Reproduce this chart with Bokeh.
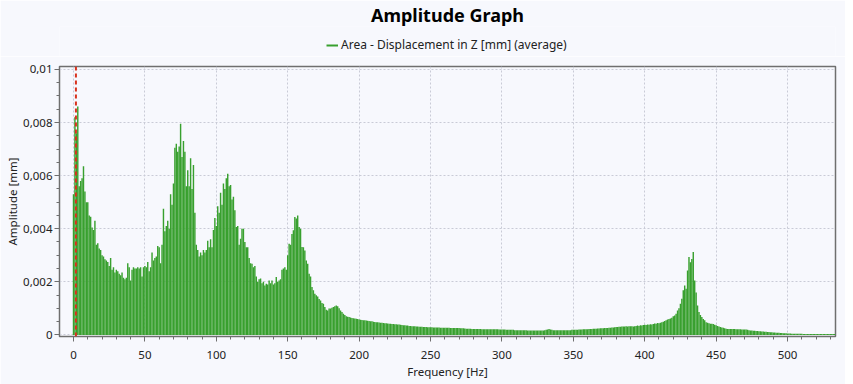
from bokeh.plotting import figure
from bokeh.layouts import column
from bokeh.models import (Range1d, SingleIntervalTicker, CustomJSTickFormatter,
                          Span, Legend, LegendItem, ColumnDataSource)
from bokeh.embed import file_html
from bokeh.resources import INLINE

# Frequency resolution of the spectrum [Hz]
freq_step = 1.0
# Amplitude values, in units of 1e-3 mm (0 Hz .. 534 Hz)
amp_e3 = [
    5.3, 8.2, 7.6, 8.6, 5.6, 5.8, 5.9, 6.35, 5.4, 5.0,
    5.0, 4.5, 4.45, 4.05, 3.95, 4.3, 3.4, 3.45, 3.25, 3.2,
    3.0, 2.95, 2.85, 2.8, 2.75, 2.6, 2.9, 2.45, 2.55, 2.35,
    2.45, 2.4, 2.3, 2.25, 2.35, 2.15, 2.1, 2.15, 2.7, 2.55,
    2.05, 2.45, 2.55, 2.5, 2.5, 2.55, 2.5, 2.55, 2.2, 2.55,
    2.6, 2.55, 2.75, 2.4, 2.55, 3.1, 2.8, 2.9, 2.95, 3.35,
    3.3, 2.7, 3.4, 4.75, 3.9, 4.1, 4.3, 4.0, 5.3, 4.9,
    5.7, 7.05, 7.2, 6.9, 7.1, 7.95, 6.7, 7.3, 6.9, 5.6,
    6.2, 5.6, 6.65, 5.5, 6.4, 4.6, 3.4, 3.2, 2.95, 3.1,
    3.0, 3.2, 3.1, 3.2, 3.55, 3.3, 3.6, 3.3, 3.95, 4.4,
    4.1, 4.85, 4.6, 5.35, 4.9, 5.7, 5.5, 5.9, 6.07, 5.6,
    5.65, 5.1, 5.2, 4.7, 4.06, 4.1, 3.4, 3.62, 4.0, 4.0,
    3.5, 3.3, 3.3, 2.9, 2.7, 2.68, 2.55, 2.6, 2.2, 2.0,
    2.1, 2.12, 1.95, 2.0, 1.86, 1.93, 1.9, 2.05, 1.95, 2.05,
    1.9, 1.95, 2.18, 2.0, 2.05, 2.1, 2.45, 2.5, 2.55, 2.45,
    3.0, 3.43, 3.4, 3.8, 3.94, 4.44, 4.38, 4.5, 4.06, 4.0,
    3.31, 3.3, 3.18, 2.8, 2.68, 2.3, 2.2, 1.8, 1.68, 1.55,
    1.49, 1.45, 1.35, 1.3, 1.2, 1.17, 1.05, 0.95, 0.92, 0.99,
    0.99, 1.02, 1.05, 1.08, 1.11, 1.08, 1.0, 0.92, 0.86, 0.8,
    0.75, 0.7, 0.68, 0.67, 0.66, 0.64, 0.63, 0.62, 0.61, 0.6,
    0.58, 0.57, 0.56, 0.55, 0.55, 0.54, 0.53, 0.52, 0.51, 0.51,
    0.50, 0.49, 0.48, 0.48, 0.47, 0.46, 0.46, 0.45, 0.44, 0.44,
    0.43, 0.42, 0.42, 0.41, 0.41, 0.40, 0.40, 0.39, 0.39, 0.38,
    0.37, 0.36, 0.36, 0.35, 0.35, 0.34, 0.34, 0.33, 0.33, 0.33,
    0.32, 0.32, 0.31, 0.31, 0.31, 0.30, 0.30, 0.30, 0.29, 0.29,
    0.29, 0.29, 0.28, 0.28, 0.28, 0.28, 0.28, 0.27, 0.27, 0.27,
    0.27, 0.27, 0.27, 0.27, 0.26, 0.26, 0.26, 0.26, 0.26, 0.26,
    0.26, 0.25, 0.25, 0.25, 0.24, 0.23, 0.23, 0.23, 0.23, 0.22,
    0.22, 0.22, 0.22, 0.22, 0.22, 0.22, 0.21, 0.21, 0.21, 0.21,
    0.21, 0.21, 0.21, 0.21, 0.21, 0.21, 0.21, 0.21, 0.20, 0.20,
    0.20, 0.20, 0.20, 0.19, 0.19, 0.19, 0.19, 0.19, 0.19, 0.18,
    0.18, 0.18, 0.18, 0.18, 0.18, 0.18, 0.18, 0.18, 0.17, 0.17,
    0.17, 0.17, 0.17, 0.17, 0.17, 0.17, 0.17, 0.17, 0.17, 0.17,
    0.18, 0.19, 0.20, 0.22, 0.20, 0.19, 0.18, 0.18, 0.18, 0.18,
    0.18, 0.18, 0.18, 0.18, 0.18, 0.18, 0.18, 0.18, 0.18, 0.19,
    0.19, 0.19, 0.19, 0.19, 0.20, 0.20, 0.20, 0.21, 0.21, 0.21,
    0.21, 0.22, 0.22, 0.22, 0.23, 0.23, 0.23, 0.24, 0.24, 0.25,
    0.25, 0.25, 0.26, 0.26, 0.26, 0.27, 0.27, 0.28, 0.28, 0.29,
    0.30, 0.30, 0.31, 0.31, 0.32, 0.32, 0.32, 0.33, 0.32, 0.33,
    0.33, 0.33, 0.32, 0.33, 0.34, 0.35, 0.34, 0.36, 0.35, 0.37,
    0.38, 0.37, 0.39, 0.38, 0.40, 0.39, 0.41, 0.43, 0.42, 0.45,
    0.44, 0.46, 0.48, 0.50, 0.52, 0.55, 0.58, 0.60, 0.62, 0.65,
    0.70, 0.73, 0.80, 0.92, 1.00, 1.17, 1.36, 1.68, 1.86, 1.74,
    2.43, 2.93, 2.74, 2.86, 3.12, 2.05, 1.60, 1.11, 0.86, 0.75,
    0.67, 0.60, 0.55, 0.48, 0.46, 0.44, 0.42, 0.42, 0.41, 0.38,
    0.36, 0.34, 0.32, 0.30, 0.28, 0.27, 0.25, 0.23, 0.22, 0.22,
    0.22, 0.22, 0.22, 0.22, 0.21, 0.21, 0.21, 0.21, 0.20, 0.20,
    0.20, 0.20, 0.19, 0.18, 0.17, 0.17, 0.16, 0.16, 0.15, 0.15,
    0.14, 0.14, 0.13, 0.13, 0.12, 0.12, 0.11, 0.11, 0.10, 0.10,
    0.09, 0.09, 0.08, 0.08, 0.08, 0.07, 0.07, 0.06, 0.06, 0.06,
    0.05, 0.05, 0.05, 0.04, 0.04, 0.04, 0.04, 0.04, 0.04, 0.04,
    0.04, 0.03, 0.03, 0.03, 0.03, 0.03, 0.03, 0.03, 0.03, 0.03,
    0.03, 0.03, 0.03, 0.03, 0.03, 0.03, 0.03, 0.03, 0.03, 0.03,
    0.03, 0.03, 0.03, 0.03, 0.03,
]
freqs = [i * freq_step for i in range(len(amp_e3))]
amps = [a * 1e-3 for a in amp_e3]

marker_freq = 1.7  # red dashed cursor [Hz]

title_text = "Amplitude Graph"
series_name = "Area - Displacement in Z [mm] (average)"
x_label = "Frequency [Hz]"
y_label = "Amplitude [mm]"

FONT = "Noto Sans"
BG = "#f7f8fd"
GREEN = "#38a02e"
W = 845

# ---------- header: title + legend (frame aligned with main plot) ----------
head = figure(width=W, height=56, output_backend="svg", toolbar_location=None,
              x_range=Range1d(0, 1), y_range=Range1d(0, 1),
              x_axis_location=None, y_axis_location=None,
              min_border_left=0, min_border_right=0, min_border_top=0,
              min_border_bottom=0)
head.grid.visible = False
head.outline_line_color = None
head.background_fill_color = BG
head.border_fill_color = BG
head.title.text = title_text
head.title.align = "center"
head.title.text_font = FONT
head.title.text_font_size = "18px"
head.title.text_font_style = "bold"
head.title.text_color = "#000000"
head.title.standoff = 0

# hidden renderer carrying the series style, used only for the legend swatch
proxy = head.line(x=freqs, y=amps, line_color=GREEN, line_width=2,
                  visible=False)
legend = Legend(items=[LegendItem(label=series_name, renderers=[proxy])],
                orientation="horizontal", location=(267, 3),
                background_fill_alpha=0, border_line_color=None,
                label_text_font=FONT, label_text_font_size="12px",
                label_text_color="#222222", glyph_width=12, glyph_height=14,
                padding=0, margin=0, spacing=0, label_standoff=3,
                label_height=14)
head.add_layout(legend, "center")

# ---------- main plot ----------
p = figure(width=W, height=328, output_backend="svg", toolbar_location=None,
           x_range=Range1d(-9.8, 533.6), y_range=Range1d(-0.00006, 0.01011),
           min_border_left=59, min_border_right=10, min_border_bottom=48,
           min_border_top=10)
p.background_fill_color = BG
p.border_fill_color = BG
p.outline_line_color = "#6f6f6f"
p.outline_line_width = 1.5

src = ColumnDataSource(dict(f=freqs, a=amps))
p.vbar(x="f", top="a", width=1.0, bottom=0, source=src,
       fill_color=GREEN, line_color=None)

cursor = Span(location=marker_freq, dimension="height", line_color="#d8321e",
              line_dash="4 3", line_width=2)
p.add_layout(cursor)

xt = SingleIntervalTicker(interval=50, num_minor_ticks=5)
yt = SingleIntervalTicker(interval=0.002, num_minor_ticks=4)
p.xaxis.ticker = xt
p.yaxis.ticker = yt
p.yaxis.formatter = CustomJSTickFormatter(code="""
    let s = tick.toFixed(3).replace(/0+$/, '').replace(/\\.$/, '');
    return s.replace('.', ',');
""")

for ax in (p.xaxis[0], p.yaxis[0]):
    ax.axis_line_color = "#6f6f6f"
    ax.major_tick_line_color = "#6f6f6f"
    ax.minor_tick_line_color = "#6f6f6f"
    ax.major_tick_out = 5
    ax.major_tick_in = 0
    ax.minor_tick_out = 3
    ax.minor_tick_in = 0
    ax.major_label_standoff = 2
    ax.major_label_text_font = FONT
    ax.major_label_text_font_size = "11.5px"
    ax.major_label_text_color = "#222222"
    ax.axis_label_text_font = FONT
    ax.axis_label_text_font_size = "11.5px"
    ax.axis_label_text_font_style = "normal"
    ax.axis_label_text_color = "#222222"
    ax.axis_label_standoff = 0

p.xaxis.axis_label = x_label
p.yaxis.axis_label = y_label
p.xaxis.major_label_standoff = 9
p.xaxis.axis_label_standoff = 2

p.xgrid.grid_line_color = "#c9cbd6"
p.xgrid.grid_line_dash = "2 2"
p.ygrid.grid_line_color = "#c9cbd6"
p.ygrid.grid_line_dash = "2 2"

page = column(head, p, spacing=0)
open("out.html", "w").write(file_html(page, INLINE))
